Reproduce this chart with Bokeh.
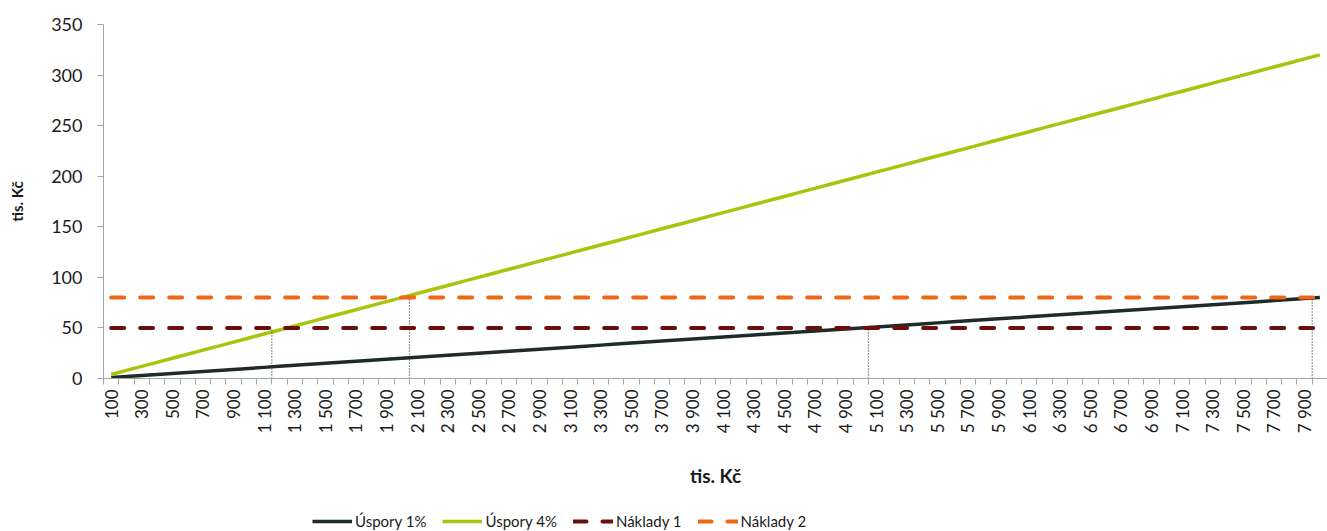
import math
from bokeh.plotting import figure
from bokeh.layouts import column
from bokeh.models import Range1d, FixedTicker, Legend, LegendItem, ColumnDataSource
from bokeh.embed import file_html
from bokeh.resources import INLINE

# ---------------- data ----------------
categories = [
    100, 200, 300, 400, 500, 600, 700, 800, 900, 1000,
    1100, 1200, 1300, 1400, 1500, 1600, 1700, 1800, 1900, 2000,
    2100, 2200, 2300, 2400, 2500, 2600, 2700, 2800, 2900, 3000,
    3100, 3200, 3300, 3400, 3500, 3600, 3700, 3800, 3900, 4000,
    4100, 4200, 4300, 4400, 4500, 4600, 4700, 4800, 4900, 5000,
    5100, 5200, 5300, 5400, 5500, 5600, 5700, 5800, 5900, 6000,
    6100, 6200, 6300, 6400, 6500, 6600, 6700, 6800, 6900, 7000,
    7100, 7200, 7300, 7400, 7500, 7600, 7700, 7800, 7900, 8000,
]
uspory_1 = [
    1, 2, 3, 4, 5, 6, 7, 8, 9, 10,
    11, 12, 13, 14, 15, 16, 17, 18, 19, 20,
    21, 22, 23, 24, 25, 26, 27, 28, 29, 30,
    31, 32, 33, 34, 35, 36, 37, 38, 39, 40,
    41, 42, 43, 44, 45, 46, 47, 48, 49, 50,
    51, 52, 53, 54, 55, 56, 57, 58, 59, 60,
    61, 62, 63, 64, 65, 66, 67, 68, 69, 70,
    71, 72, 73, 74, 75, 76, 77, 78, 79, 80,
]
uspory_4 = [
    4, 8, 12, 16, 20, 24, 28, 32, 36, 40,
    44, 48, 52, 56, 60, 64, 68, 72, 76, 80,
    84, 88, 92, 96, 100, 104, 108, 112, 116, 120,
    124, 128, 132, 136, 140, 144, 148, 152, 156, 160,
    164, 168, 172, 176, 180, 184, 188, 192, 196, 200,
    204, 208, 212, 216, 220, 224, 228, 232, 236, 240,
    244, 248, 252, 256, 260, 264, 268, 272, 276, 280,
    284, 288, 292, 296, 300, 304, 308, 312, 316, 320,
]
naklady_1 = [
    50, 50, 50, 50, 50, 50, 50, 50, 50, 50,
    50, 50, 50, 50, 50, 50, 50, 50, 50, 50,
    50, 50, 50, 50, 50, 50, 50, 50, 50, 50,
    50, 50, 50, 50, 50, 50, 50, 50, 50, 50,
    50, 50, 50, 50, 50, 50, 50, 50, 50, 50,
    50, 50, 50, 50, 50, 50, 50, 50, 50, 50,
    50, 50, 50, 50, 50, 50, 50, 50, 50, 50,
    50, 50, 50, 50, 50, 50, 50, 50, 50, 50,
]
naklady_2 = [
    80, 80, 80, 80, 80, 80, 80, 80, 80, 80,
    80, 80, 80, 80, 80, 80, 80, 80, 80, 80,
    80, 80, 80, 80, 80, 80, 80, 80, 80, 80,
    80, 80, 80, 80, 80, 80, 80, 80, 80, 80,
    80, 80, 80, 80, 80, 80, 80, 80, 80, 80,
    80, 80, 80, 80, 80, 80, 80, 80, 80, 80,
    80, 80, 80, 80, 80, 80, 80, 80, 80, 80,
    80, 80, 80, 80, 80, 80, 80, 80, 80, 80,
]
# drop lines (break-even markers)
drop_x = [1150, 2050, 5050, 7950]
drop_top = [50, 80, 50, 80]

y_ticks = [0, 50, 100, 150, 200, 250, 300, 350]
series_names = ["Úspory 1%", "Úspory 4%", "Náklady 1", "Náklady 2"]
axis_title = "tis. Kč"

# ---------------- styles ----------------
FONT = "Lato"
TEXT = "#1a1a1a"
AXIS = "#9ea8a8"
C_DARK = "#1f2b2b"
C_GREEN = "#abc30c"
C_MAROON = "#6a0f0f"
C_ORANGE = "#ef6716"
styles = [
    dict(line_color=C_DARK, line_width=3.5),
    dict(line_color=C_GREEN, line_width=3.5),
    dict(line_color=C_MAROON, line_width=4, line_dash="13 16", line_cap="round"),
    dict(line_color=C_ORANGE, line_width=4, line_dash="13 16", line_cap="round"),
]

src = ColumnDataSource(dict(x=categories, u1=uspory_1, u4=uspory_4,
                            n1=naklady_1, n2=naklady_2))
drop_src = ColumnDataSource(dict(x=drop_x, top=drop_top, bottom=[0] * len(drop_x)))

W = 1327
H_MAIN = 500
H_LEG = 31

p = figure(width=W, height=H_MAIN, output_backend="svg", toolbar_location=None,
           x_range=Range1d(categories[0] - 50, categories[-1] + 50),
           y_range=Range1d(y_ticks[0], y_ticks[-1]),
           min_border_left=103, min_border_right=0, min_border_top=24,
           min_border_bottom=H_MAIN - 378)
p.outline_line_color = None
p.grid.visible = False
p.background_fill_color = "white"
p.border_fill_color = "white"

# lines
p.line("x", "u1", source=src, **styles[0])
p.line("x", "u4", source=src, **styles[1])
p.line("x", "n1", source=src, **styles[2])
p.line("x", "n2", source=src, **styles[3])
p.segment(x0="x", y0="bottom", x1="x", y1="top", source=drop_src,
          line_color="#333333", line_width=1.2, line_dash="1 2")

# y axis
ya = p.yaxis[0]
ya.ticker = FixedTicker(ticks=y_ticks)
ya.axis_line_color = AXIS
ya.major_tick_line_color = AXIS
ya.major_tick_out = 6
ya.major_tick_in = 0
ya.minor_tick_line_color = None
ya.major_label_standoff = 15
ya.major_label_text_font = FONT
ya.major_label_text_font_size = "18px"
ya.major_label_text_color = TEXT
ya.axis_label = axis_title
ya.axis_label_text_font = FONT
ya.axis_label_text_font_style = "bold"
ya.axis_label_text_font_size = "15px"
ya.axis_label_text_color = TEXT
ya.axis_label_standoff = 22

# x axis: labels on every other category, tick marks between categories
label_ticks = categories[::2]
boundaries = [c - 50 for c in categories] + [categories[-1] + 50]
xa = p.xaxis[0]
xa.ticker = FixedTicker(ticks=label_ticks, minor_ticks=boundaries)
xa.major_label_overrides = {c: f"{c:,}".replace(",", " ") for c in label_ticks}
xa.major_label_orientation = math.pi / 2
xa.axis_line_color = AXIS
xa.major_tick_out = 0
xa.major_tick_in = 0
xa.major_tick_line_color = None
xa.minor_tick_line_color = AXIS
xa.minor_tick_out = 6
xa.minor_tick_in = 0
xa.major_label_standoff = 5
xa.major_label_text_font = FONT
xa.major_label_text_font_size = "17px"
xa.major_label_text_color = TEXT
xa.axis_label = axis_title
xa.axis_label_text_font = FONT
xa.axis_label_text_font_style = "bold"
xa.axis_label_text_font_size = "19px"
xa.axis_label_text_color = TEXT
xa.axis_label_standoff = 28

# legend strip below the chart (its frame is aligned with the chart's frame)
pl = figure(width=W, height=H_LEG, output_backend="svg", toolbar_location=None,
            x_range=Range1d(0, 1), y_range=Range1d(0, 1),
            x_axis_location=None, y_axis_location=None,
            min_border=0)
pl.outline_line_color = None
pl.grid.visible = False
pl.background_fill_color = "white"
pl.border_fill_color = "white"
items = []
for name, st in zip(series_names, styles):
    r = pl.line(x=[-5], y=[-5], **st)   # off-range proxy, only feeds the legend
    items.append(LegendItem(label=name, renderers=[r]))
legend = Legend(items=items, orientation="horizontal", location=(209, 0),
                border_line_color=None, background_fill_alpha=0,
                padding=0, margin=0, spacing=16, glyph_width=40, glyph_height=20,
                label_height=20, label_standoff=3,
                label_text_font=FONT, label_text_font_size="15px",
                label_text_color=TEXT)
pl.add_layout(legend)

layout = column(p, pl, spacing=0)
open("out.html", "w").write(file_html(layout, INLINE))
